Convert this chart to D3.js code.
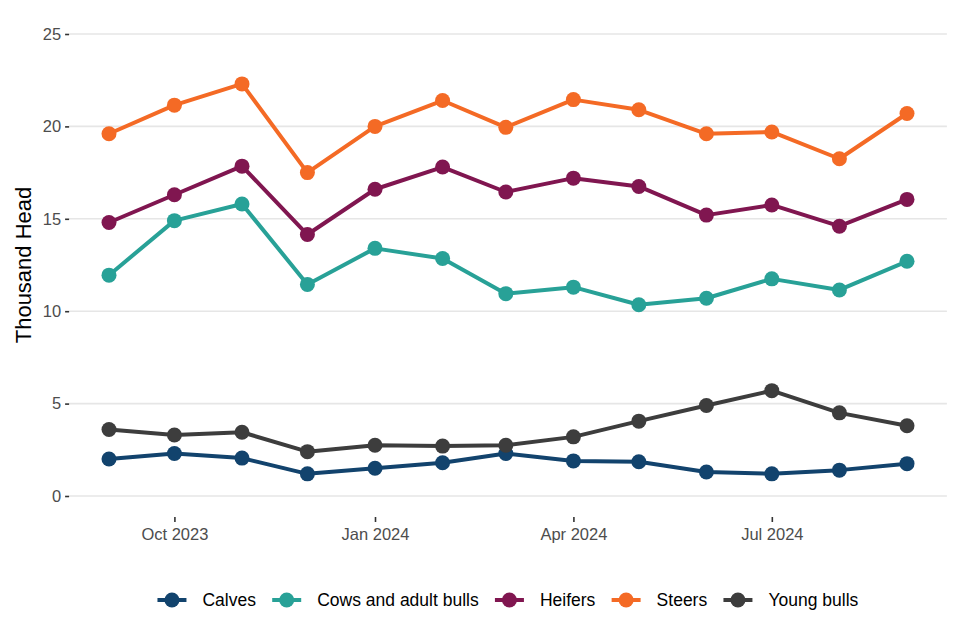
<!DOCTYPE html>
<html>
<head>
<meta charset="utf-8">
<script src="https://cdn.jsdelivr.net/npm/d3@7"></script>
<style>
  body { margin: 0; background: #fff; }
  text { font-family: "Liberation Sans", Arial, sans-serif; }
</style>
</head>
<body>
<svg id="chart" width="960" height="640"></svg>
<script>
// monthly observations, Sep 2023 - Sep 2024
const months = ["2023-09-01", "2023-10-01", "2023-11-01", "2023-12-01", "2024-01-01", "2024-02-01",
  "2024-03-01", "2024-04-01", "2024-05-01", "2024-06-01", "2024-07-01", "2024-08-01", "2024-09-01"];

const calves = [2.0, 2.3, 2.05, 1.2, 1.5, 1.8, 2.3, 1.9, 1.85, 1.3, 1.2, 1.4, 1.75];
const cows = [11.95, 14.9, 15.8, 11.45, 13.4, 12.85, 10.95, 11.3, 10.35, 10.7, 11.75, 11.15, 12.7];
const heifers = [14.8, 16.3, 17.85, 14.15, 16.6, 17.8, 16.45, 17.2, 16.75, 15.2, 15.75, 14.6, 16.05];
const steers = [19.6, 21.15, 22.3, 17.5, 20.0, 21.4, 19.95, 21.45, 20.9, 19.6, 19.7, 18.25, 20.7];
const youngBulls = [3.6, 3.3, 3.45, 2.4, 2.75, 2.7, 2.75, 3.2, 4.05, 4.9, 5.7, 4.5, 3.8];

const seriesNames = ["Calves", "Cows and adult bulls", "Heifers", "Steers", "Young bulls"];
const yTicks = [0, 5, 10, 15, 20, 25];
const xTicks = ["2023-10-01", "2024-01-01", "2024-04-01", "2024-07-01"];

const colors = d3.scaleOrdinal()
  .domain(seriesNames)
  .range(["#12436D", "#28A197", "#801650", "#F46A25", "#3D3D3D"]);

const parse = d3.timeParse("%Y-%m-%d");
const dates = months.map(parse);
const allValues = [calves, cows, heifers, steers, youngBulls];
const series = seriesNames.map((name, i) => ({
  name,
  points: dates.map((d, j) => ({ date: d, value: allValues[i][j] }))
}));

const svg = d3.select("#chart");

// plot area: 5% expansion on the time axis like ggplot
const x0 = 109, x1 = 907;
const pad = (x1 - x0) * 0.05;
const x = d3.scaleTime()
  .domain(d3.extent(dates))
  .range([x0, x1]);
const y = d3.scaleLinear()
  .domain([0, 25])
  .range([496, 34]);

const left = x0 - pad, right = x1 + pad;

// grid
svg.append("g")
  .selectAll("line")
  .data(yTicks)
  .join("line")
  .attr("x1", left)
  .attr("x2", right)
  .attr("y1", d => y(d))
  .attr("y2", d => y(d))
  .attr("stroke", "#E6E6E6")
  .attr("stroke-width", 1.6);

// y axis
const yAxis = svg.append("g")
  .attr("transform", `translate(${left},0)`)
  .call(d3.axisLeft(y).tickValues(yTicks).tickSize(4).tickPadding(4));
yAxis.select(".domain").remove();
yAxis.selectAll(".tick line").attr("stroke", "#333").attr("stroke-width", 1.6);
yAxis.selectAll(".tick text")
  .attr("fill", "#4D4D4D")
  .style("font-size", "16.5px")
  .style("font-family", "Liberation Sans, Arial, sans-serif");

// x axis
const xAxis = svg.append("g")
  .attr("transform", `translate(0,${517})`)
  .call(d3.axisBottom(x)
    .tickValues(xTicks.map(parse))
    .tickFormat(d3.timeFormat("%b %Y"))
    .tickSize(5)
    .tickPadding(6));
xAxis.select(".domain").remove();
xAxis.selectAll(".tick line").attr("stroke", "#333").attr("stroke-width", 1.6);
xAxis.selectAll(".tick text")
  .attr("fill", "#4D4D4D")
  .style("font-size", "16.5px")
  .style("font-family", "Liberation Sans, Arial, sans-serif");

// y title
svg.append("text")
  .attr("transform", `translate(31,${(y(0) + y(25)) / 2}) rotate(-90)`)
  .attr("text-anchor", "middle")
  .style("font-size", "22px")
  .attr("fill", "#000")
  .text("Thousand Head");

// lines and points
const line = d3.line()
  .x(d => x(d.date))
  .y(d => y(d.value));

const groups = svg.append("g")
  .selectAll("g.series")
  .data(series)
  .join("g")
  .attr("class", "series");

groups.append("path")
  .attr("d", d => line(d.points))
  .attr("fill", "none")
  .attr("stroke", d => colors(d.name))
  .attr("stroke-width", 4)
  .attr("stroke-linejoin", "round");

groups.selectAll("circle")
  .data(d => d.points.map(p => ({ ...p, name: d.name })))
  .join("circle")
  .attr("cx", d => x(d.date))
  .attr("cy", d => y(d.value))
  .attr("r", 7.5)
  .attr("fill", d => colors(d.name));

// legend, centered
const legend = svg.append("g").attr("transform", "translate(0,600)");
const keyW = 29, gapText = 16, gapItem = 16;
const items = legend.selectAll("g.item")
  .data(seriesNames)
  .join("g")
  .attr("class", "item");
items.append("line")
  .attr("x1", 0).attr("x2", keyW)
  .attr("stroke", d => colors(d))
  .attr("stroke-width", 4);
items.append("circle")
  .attr("cx", keyW / 2)
  .attr("r", 7.5)
  .attr("fill", d => colors(d));
items.append("text")
  .attr("x", keyW + gapText)
  .attr("dy", "0.35em")
  .style("font-size", "17.5px")
  .attr("fill", "#000")
  .text(d => d);

let widths = [];
items.each(function () { widths.push(this.getBBox().width); });
const total = d3.sum(widths) + gapItem * (widths.length - 1);
let cur = (left + right) / 2 - total / 2;
items.attr("transform", (d, i) => {
  const t = `translate(${cur},0)`;
  cur += widths[i] + gapItem;
  return t;
});
</script>
</body>
</html>
